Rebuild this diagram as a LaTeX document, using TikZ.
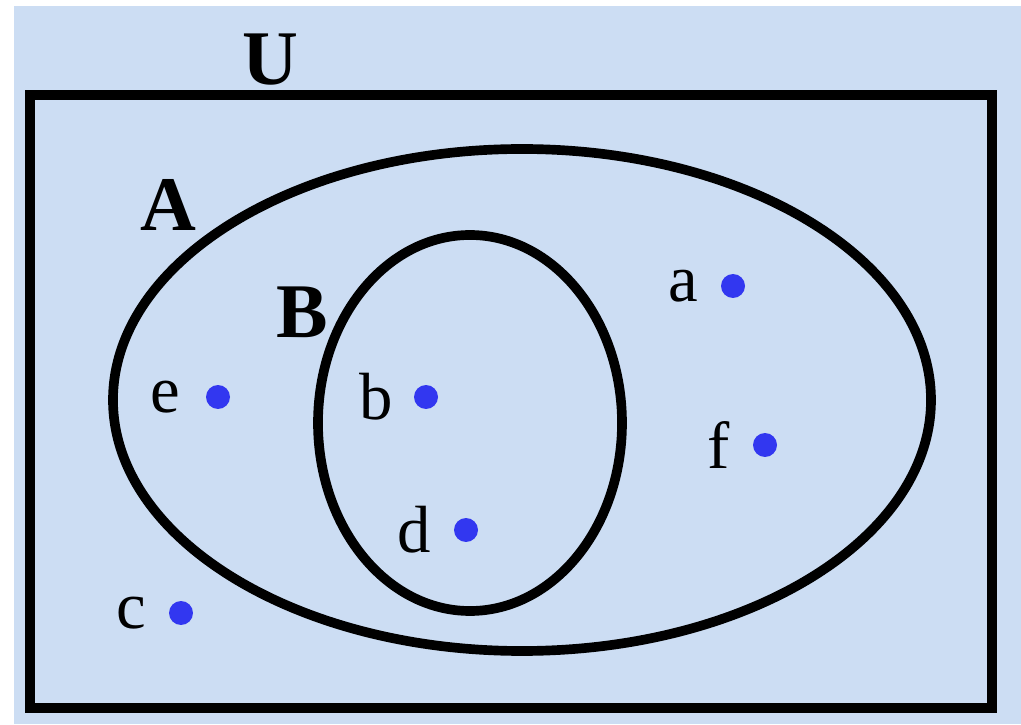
\documentclass[tikz,border=0pt]{standalone}
\usepackage{fontspec}
\setmainfont{Liberation Serif}
\usepackage{tikz}
\usetikzlibrary{positioning}
\definecolor{paper}{RGB}{204,221,243}
\definecolor{dotblue}{RGB}{50,55,240}

\tikzset{
    setline/.style={line width=5.5pt, black},
    element/.style={circle, fill=dotblue, inner sep=0pt, minimum size=0.48cm},
    elname/.style={inner sep=0pt, font=\fontsize{38}{40}\selectfont},
    setname/.style={inner sep=0pt, font=\fontsize{44}{46}\selectfont\bfseries}
}

\begin{document}
\begin{tikzpicture}[x=0.02cm, y=0.02cm]

% Marges
\useasboundingbox (0,0) rectangle (1021,724);
\fill[white] (0,0) rectangle (1021,724);
\fill[paper] (14,0) rectangle (1021,718);

% Univers
\draw[setline] (30,16) rectangle (992,629);
\node[setname] (labelU) at (270,664) {U};

% Conjunt A
\draw[setline] (522,324) ellipse [x radius=409, y radius=251];
\node[setname] (labelA) at (168,519) {A};

% Conjunt B
\draw[setline] (470,301) ellipse [x radius=152, y radius=188];
\node[setname] (labelB) at (302,412) {B};

% Elements
\node[element] (pa) at (733,438) {};
\node[element] (pe) at (218,327) {};
\node[element] (pb) at (426,327) {};
\node[element] (pf) at (765,279) {};
\node[element] (pd) at (466,194) {};
\node[element] (pc) at (181,111) {};

% Noms dels elements
\node[elname, left=0.45cm of pa] (na) {a};
\node[elname, left=0.5cm of pe] (ne) {e};
\node[elname, left=0.4cm of pb] (nb) {b};
\node[elname, left=0.45cm of pf] (nf) {f};
\node[elname, left=0.45cm of pd] (nd) {d};
\node[elname, left=0.45cm of pc] (nc) {c};

\end{tikzpicture}
\end{document}
